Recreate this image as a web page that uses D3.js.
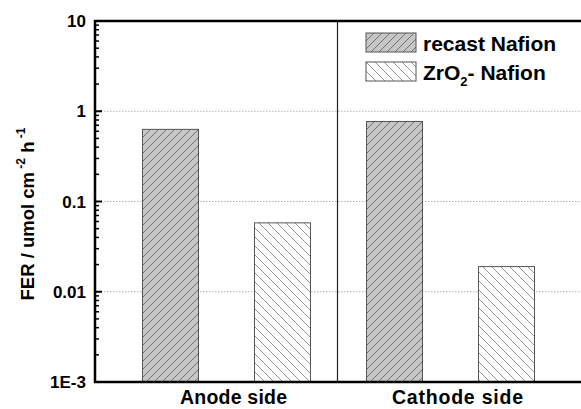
<!DOCTYPE html>
<html>
<head>
<meta charset="utf-8">
<script src="https://cdn.jsdelivr.net/npm/d3@7"></script>
<style>
	body { margin: 0; background: #fff; }
	svg { display: block; font-family: 'Liberation Sans', Arial, sans-serif; font-weight: bold; }
</style>
</head>
<body>
<div id="chart"></div>
<script>
// values
const categories = ['Anode side', 'Cathode side'];
const seriesNames = ['recast Nafion', 'ZrO2- Nafion'];
const recastValues = [0.63, 0.77];
const zro2Values = [0.058, 0.019];
const yTicks = [1e-3, 0.01, 0.1, 1, 10];
const yTickLabels = ['1E-3', '0.01', '0.1', '1', '10'];
const gridTicks = [0.01, 0.1, 1];

const width = 581, height = 409;
const plotLeft = 95, plotRight = 582, plotTop = 21, plotBottom = 382;

const svg = d3.select('#chart').append('svg')
	.attr('width', width)
	.attr('height', height);

// hatch patterns
const defs = svg.append('defs');
defs.append('pattern')
	.attr('id', 'hatch-recast')
	.attr('patternUnits', 'userSpaceOnUse')
	.attr('width', 8).attr('height', 8)
	.call(p => {
		p.append('rect').attr('width', 8).attr('height', 8).attr('fill', '#c6c6c6');
		p.append('path')
			.attr('d', 'M0,8L8,0M-2,2L2,-2M6,10L10,6')
			.attr('stroke', '#6a6a6a').attr('stroke-width', 0.9);
	});
defs.append('pattern')
	.attr('id', 'hatch-zro2')
	.attr('patternUnits', 'userSpaceOnUse')
	.attr('width', 9).attr('height', 9)
	.call(p => {
		p.append('rect').attr('width', 9).attr('height', 9).attr('fill', '#fff');
		p.append('path')
			.attr('d', 'M0,0L9,9M-2,7L2,11M7,-2L11,2')
			.attr('stroke', '#8a8a8a').attr('stroke-width', 0.9);
	});
const fills = ['url(#hatch-recast)', 'url(#hatch-zro2)'];

// one slot per bar: category x series
const bars = [];
categories.forEach((c, i) => {
	bars.push({cat: c, s: 0, value: recastValues[i], key: c + '|0'});
	bars.push({cat: c, s: 1, value: zro2Values[i], key: c + '|1'});
});

const x = d3.scaleBand()
	.domain(bars.map(d => d.key))
	.range([plotLeft, plotRight])
	.paddingInner(0.5)
	.paddingOuter(0.424);

const y = d3.scaleLog()
	.domain([1e-3, 10])
	.range([plotBottom, plotTop]);

// dotted gridlines
svg.append('g')
	.selectAll('line')
	.data(gridTicks)
	.join('line')
	.attr('x1', plotLeft).attr('x2', plotRight)
	.attr('y1', d => y(d)).attr('y2', d => y(d))
	.attr('stroke', '#b5b5b5')
	.attr('stroke-width', 1)
	.attr('stroke-dasharray', '1.5,1.5');

// divider between categories
const divX = (x(bars[1].key) + x.bandwidth() + x(bars[2].key)) / 2 - 1;
svg.append('line')
	.attr('x1', divX).attr('x2', divX)
	.attr('y1', plotTop).attr('y2', plotBottom)
	.attr('stroke', '#222').attr('stroke-width', 1.2);

// bars
svg.append('g')
	.selectAll('rect')
	.data(bars)
	.join('rect')
	.attr('x', d => x(d.key))
	.attr('width', x.bandwidth())
	.attr('y', d => y(d.value))
	.attr('height', d => plotBottom - y(d.value))
	.attr('fill', d => fills[d.s])
	.attr('stroke', '#555')
	.attr('stroke-width', 1);

// y axis with inward ticks
const minorTicks = [];
for (let e = -3; e < 1; e++) {
	for (let m = 2; m <= 9; m++) minorTicks.push(m * Math.pow(10, e));
}
const yAxis = svg.append('g');
yAxis.selectAll('line.minor')
	.data(minorTicks)
	.join('line')
	.attr('class', 'minor')
	.attr('x1', plotLeft).attr('x2', plotLeft + 4)
	.attr('y1', d => y(d)).attr('y2', d => y(d))
	.attr('stroke', '#000').attr('stroke-width', 1.5);
yAxis.selectAll('line.major')
	.data(yTicks)
	.join('line')
	.attr('class', 'major')
	.attr('x1', plotLeft).attr('x2', plotLeft + 7)
	.attr('y1', d => y(d)).attr('y2', d => y(d))
	.attr('stroke', '#000').attr('stroke-width', 2);
yAxis.selectAll('text')
	.data(yTicks)
	.join('text')
	.attr('x', plotLeft - 9)
	.attr('y', d => y(d))
	.attr('dy', '0.36em')
	.attr('text-anchor', 'end')
	.attr('font-size', 17)
	.text((d, i) => yTickLabels[i]);

// frame lines: left, top, bottom
svg.append('path')
	.attr('d', `M${plotRight},${plotTop}H${plotLeft}V${plotBottom}H${plotRight}`)
	.attr('fill', 'none')
	.attr('stroke', '#000')
	.attr('stroke-width', 2.5);

// category labels
svg.append('g')
	.selectAll('text')
	.data(categories)
	.join('text')
	.attr('x', (c, i) => (x(bars[i * 2].key) + x(bars[i * 2 + 1].key) + x.bandwidth()) / 2 + 7)
	.attr('y', 404)
	.attr('text-anchor', 'middle')
	.attr('font-size', 19.5)
	.attr('textLength', (c, i) => i === 0 ? 107 : 131)
	.text(d => d);

// y title
const yTitle = svg.append('text')
	.attr('transform', 'translate(34,214) rotate(-90)')
	.attr('text-anchor', 'middle')
	.attr('font-size', 18.5);
yTitle.append('tspan').text('FER / umol cm');
yTitle.append('tspan').attr('font-size', 12).attr('dy', -9).text(' -2');
yTitle.append('tspan').attr('dy', 9).text(' h');
yTitle.append('tspan').attr('font-size', 12).attr('dy', -9).text(' -1');

// legend
const legend = svg.append('g').attr('transform', 'translate(366,33)');
seriesNames.forEach((name, i) => {
	const g = legend.append('g').attr('transform', `translate(0,${i * 29})`);
	g.append('rect')
		.attr('width', 50).attr('height', 19)
		.attr('fill', fills[i])
		.attr('stroke', '#555').attr('stroke-width', 1);
	const t = g.append('text')
		.attr('x', 57).attr('y', 18)
		.attr('font-size', 21);
	if (name.startsWith('ZrO2')) {
		t.append('tspan').text('ZrO');
		t.append('tspan').attr('font-size', 13).attr('dy', 6).text('2');
		t.append('tspan').attr('dy', -6).text(name.slice(4));
	} else {
		t.text(name);
	}
});
</script>
</body>
</html>
